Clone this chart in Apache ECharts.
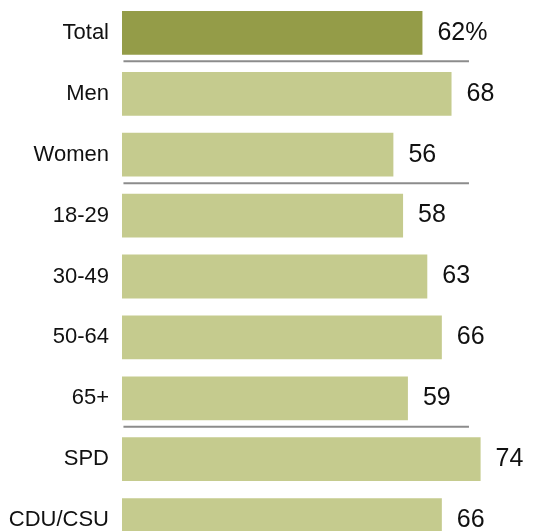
<!DOCTYPE html>
<html>
<head>
<meta charset="utf-8">
<title>Share by group</title>
<script src="https://cdn.jsdelivr.net/npm/echarts@6/dist/echarts.min.js"></script>
<style>
  html, body { margin: 0; padding: 0; background: #ffffff; }
  #chart { width: 535px; height: 531px; }
</style>
</head>
<body>
<div id="chart"></div>
<script>
// Groups, top to bottom
var categories = ['Total', 'Men', 'Women', '18-29', '30-49', '50-64', '65+', 'SPD', 'CDU/CSU'];
// Percent per group
var values = [62, 68, 56, 58, 63, 66, 59, 74, 66];
// Groups followed by a divider rule
var dividerAfter = ['Total', 'Women', '65+'];

var TOTAL_COLOR = '#949c48';
var BAR_COLOR = '#c5cb8e';
var PX_PER_UNIT = 4.846;
var X_MAX = 80;

var chart = echarts.init(document.getElementById('chart'), null, { renderer: 'canvas' });

var seriesData = values.map(function (v, i) {
  return {
    value: v,
    itemStyle: { color: i === 0 ? TOTAL_COLOR : BAR_COLOR },
    label: { formatter: i === 0 ? '{c}%' : '{c}' }
  };
});

chart.setOption({
  animation: false,
  backgroundColor: '#ffffff',
  grid: {
    left: 122,
    top: 2.45,
    width: PX_PER_UNIT * X_MAX,
    height: 60.9 * categories.length,
    containLabel: false,
    outerBoundsMode: 'none'
  },
  xAxis: {
    type: 'value',
    min: 0,
    max: X_MAX,
    show: false
  },
  yAxis: {
    type: 'category',
    data: categories,
    inverse: true,
    axisLine: { show: false },
    axisTick: { show: false },
    splitLine: { show: false },
    axisLabel: {
      margin: 13,
      color: '#111111',
      fontFamily: 'Liberation Sans, Arial, sans-serif',
      fontSize: 22
    }
  },
  series: [{
    type: 'bar',
    data: seriesData,
    barWidth: 43.8,
    label: {
      show: true,
      position: 'right',
      distance: 15,
      color: '#111111',
      fontFamily: 'Liberation Sans, Arial, sans-serif',
      fontSize: 25
    }
  }]
});

// Divider rules sit on the boundary between a group and the next one
function drawDividers() {
  var x0 = chart.convertToPixel({ xAxisIndex: 0 }, 0.3);
  var x1 = chart.convertToPixel({ xAxisIndex: 0 }, 71.6);
  var elements = dividerAfter.map(function (name) {
    var i = categories.indexOf(name);
    var ya = chart.convertToPixel({ yAxisIndex: 0 }, categories[i]);
    var yb = chart.convertToPixel({ yAxisIndex: 0 }, categories[i + 1]);
    var y = (ya + yb) / 2 - 2;
    return {
      type: 'line',
      shape: { x1: x0, y1: y, x2: x1, y2: y },
      style: { stroke: '#8c8c8c', lineWidth: 2 },
      silent: true
    };
  });
  chart.setOption({ graphic: { elements: elements } });
}
drawDividers();
</script>
</body>
</html>
